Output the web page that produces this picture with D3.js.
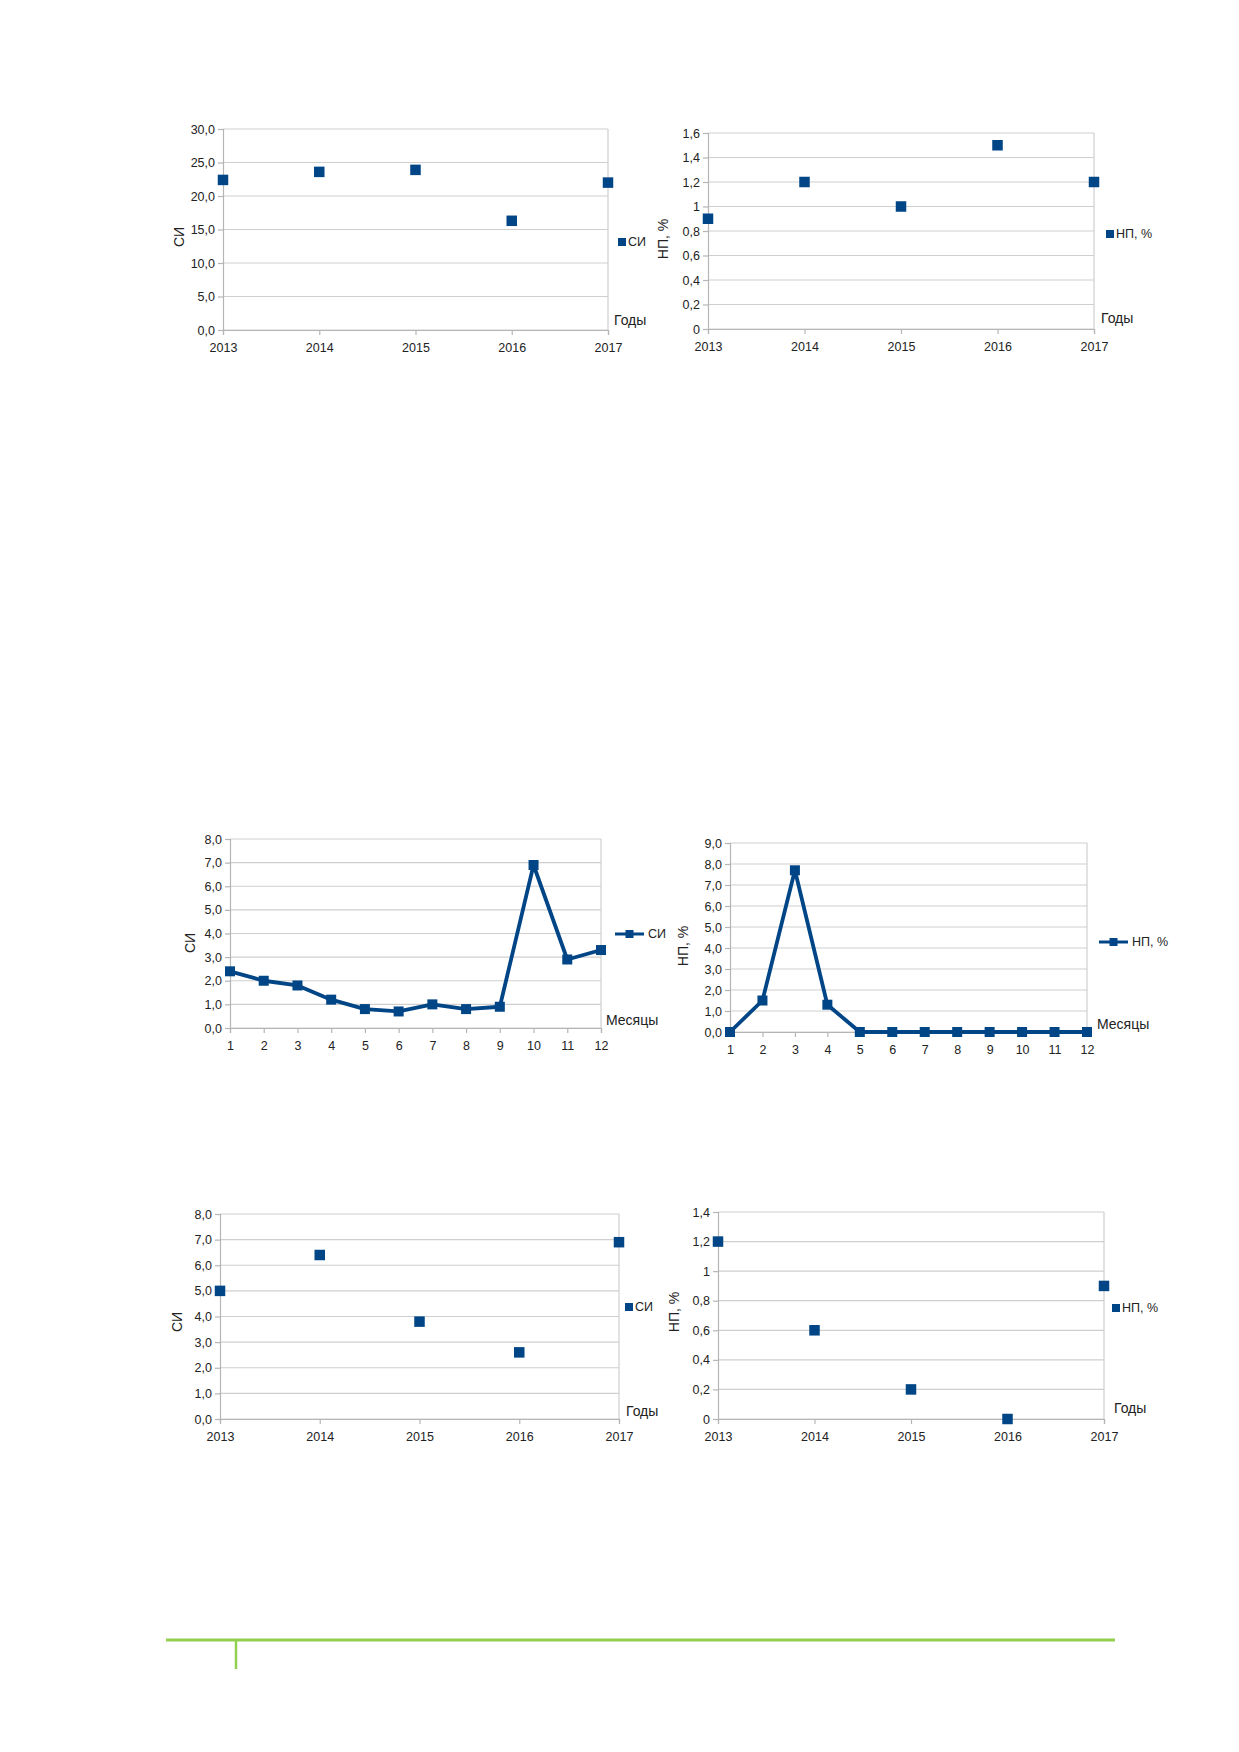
<!DOCTYPE html>
<html>
<head>
<meta charset="utf-8">
<script src="https://cdnjs.cloudflare.com/ajax/libs/d3/7.8.5/d3.min.js"></script>
<style>
  body { margin: 0; background: #fff; }
  text { font-family: "Liberation Sans", Arial, sans-serif; fill: #222; }
</style>
</head>
<body>
<div id="page"></div>
<script>
// data
const years = [2013, 2014, 2015, 2016, 2017];
const months = [1, 2, 3, 4, 5, 6, 7, 8, 9, 10, 11, 12];

const siByYearTop = [22.4, 23.6, 23.9, 16.3, 22.0];
const npByYearTop = [0.9, 1.2, 1.0, 1.5, 1.2];
const siByMonth = [2.4, 2.0, 1.8, 1.2, 0.8, 0.7, 1.0, 0.8, 0.9, 6.9, 2.9, 3.3];
const npByMonth = [0, 1.5, 7.7, 1.3, 0, 0, 0, 0, 0, 0, 0, 0];
const siByYearBottom = [5.0, 6.4, 3.8, 2.6, 6.9];
const npByYearBottom = [1.2, 0.6, 0.2, 0, 0.9];

const siTicks30 = [0, 5, 10, 15, 20, 25, 30];
const npTicks16 = [0, 0.2, 0.4, 0.6, 0.8, 1, 1.2, 1.4, 1.6];
const siTicks8 = [0, 1, 2, 3, 4, 5, 6, 7, 8];
const npTicks9 = [0, 1, 2, 3, 4, 5, 6, 7, 8, 9];
const npTicks14 = [0, 0.2, 0.4, 0.6, 0.8, 1, 1.2, 1.4];

const blue = "#004586";

//formats: "22,0" style and "0,8 / 1" style
const fmtFixed = v => v.toFixed(1).replace(".", ",");
const fmtShort = v => Number.isInteger(v) ? String(v) : v.toFixed(1).replace(".", ",");

let svg = d3.select("#page")
    .append("svg")
    .attr("width", 1239)
    .attr("height", 1752);

function drawChart(c) {
    let x = d3.scalePoint().domain(c.cats).range([c.left, c.right]);
    let y = d3.scaleLinear().domain([0, d3.max(c.ticks)]).range([c.bottom, c.top]);
    let g = svg.append("g");

    //grid lines
    g.selectAll(".grid")
        .data(c.ticks)
        .enter()
        .append("line")
        .attr("x1", c.left)
        .attr("x2", c.right)
        .attr("y1", d => y(d))
        .attr("y2", d => y(d))
        .attr("stroke", "#cfcfcf")
        .attr("stroke-width", 1.2);

    //right frame line
    g.append("line")
        .attr("x1", c.right).attr("x2", c.right)
        .attr("y1", c.top).attr("y2", c.bottom)
        .attr("stroke", "#cfcfcf")
        .attr("stroke-width", 1.2);

    let yAxis = g.append("g")
        .attr("transform", `translate(${c.left},0)`)
        .call(d3.axisLeft(y).tickValues(c.ticks).tickFormat(c.fmt).tickSize(5).tickPadding(3));
    let xAxis = g.append("g")
        .attr("transform", `translate(0,${c.bottom})`)
        .call(d3.axisBottom(x).tickSize(5).tickPadding(8));
    [yAxis, xAxis].forEach(a => {
        a.select(".domain").attr("stroke", "#b5b5b5").attr("stroke-width", 1.2);
        a.selectAll(".tick line").attr("stroke", "#b5b5b5").attr("stroke-width", 1.2);
        a.selectAll(".tick text")
            .style("font-family", "Liberation Sans, Arial, sans-serif")
            .style("font-size", "12.5px")
            .attr("fill", "#222");
    });

    let pts = c.cats.map((d, i) => [x(d), y(c.values[i])]);

    if (c.line) {
        g.append("path")
            .attr("d", d3.line()(pts))
            .attr("fill", "none")
            .attr("stroke", blue)
            .attr("stroke-width", 3.8)
            .attr("stroke-linejoin", "round");
    }

    const ms = c.line ? 10 : 10.5;
    g.selectAll(".pt")
        .data(pts)
        .enter()
        .append("rect")
        .attr("x", d => d[0] - ms / 2)
        .attr("y", d => d[1] - ms / 2)
        .attr("width", ms)
        .attr("height", ms)
        .attr("fill", blue);

    //axis titles
    g.append("text")
        .attr("transform", `translate(${c.yTitle[0]},${c.yTitle[1]}) rotate(-90)`)
        .attr("text-anchor", "middle")
        .attr("dominant-baseline", "central")
        .style("font-size", "14px")
        .text(c.name);
    g.append("text")
        .attr("x", c.xTitle[0])
        .attr("y", c.xTitle[1])
        .style("font-size", "14px")
        .text(c.xName);

    //legend
    let lx = c.legend[0], ly = c.legend[1];
    if (c.line) {
        g.append("line")
            .attr("x1", lx).attr("x2", lx + 29)
            .attr("y1", ly).attr("y2", ly)
            .attr("stroke", blue).attr("stroke-width", 3);
        g.append("rect")
            .attr("x", lx + 14.5 - 4).attr("y", ly - 4)
            .attr("width", 8).attr("height", 8)
            .attr("fill", blue);
        g.append("text")
            .attr("x", lx + 33).attr("y", ly)
            .attr("dominant-baseline", "central")
            .style("font-size", "12.5px")
            .text(c.name);
    } else {
        g.append("rect")
            .attr("x", lx - 4).attr("y", ly - 4)
            .attr("width", 8).attr("height", 8)
            .attr("fill", blue);
        g.append("text")
            .attr("x", lx + 6).attr("y", ly)
            .attr("dominant-baseline", "central")
            .style("font-size", "12.5px")
            .text(c.name);
    }
}

drawChart({ cats: years, values: siByYearTop, ticks: siTicks30, fmt: fmtFixed, name: "СИ", xName: "Годы",
    left: 223, right: 608, top: 129, bottom: 330, yTitle: [179, 237], xTitle: [614, 325], legend: [622, 242] });
drawChart({ cats: years, values: npByYearTop, ticks: npTicks16, fmt: fmtShort, name: "НП, %", xName: "Годы",
    left: 708, right: 1094, top: 133, bottom: 329, yTitle: [663, 239], xTitle: [1101, 323], legend: [1110, 234] });
drawChart({ cats: months, values: siByMonth, ticks: siTicks8, fmt: fmtFixed, name: "СИ", xName: "Месяцы", line: true,
    left: 230, right: 601, top: 839, bottom: 1028, yTitle: [190, 943], xTitle: [606, 1025], legend: [615, 934] });
drawChart({ cats: months, values: npByMonth, ticks: npTicks9, fmt: fmtFixed, name: "НП, %", xName: "Месяцы", line: true,
    left: 730, right: 1087, top: 843, bottom: 1032, yTitle: [683, 946], xTitle: [1097, 1029], legend: [1099, 942] });
drawChart({ cats: years, values: siByYearBottom, ticks: siTicks8, fmt: fmtFixed, name: "СИ", xName: "Годы",
    left: 220, right: 619, top: 1214, bottom: 1419, yTitle: [177, 1322], xTitle: [626, 1416], legend: [629, 1307] });
drawChart({ cats: years, values: npByYearBottom, ticks: npTicks14, fmt: fmtShort, name: "НП, %", xName: "Годы",
    left: 718, right: 1104, top: 1212, bottom: 1419, yTitle: [674, 1312], xTitle: [1114, 1413], legend: [1116, 1308] });

//green footer rule
svg.append("line")
    .attr("x1", 166).attr("x2", 1115)
    .attr("y1", 1640).attr("y2", 1640)
    .attr("stroke", "#92d050").attr("stroke-width", 3);
svg.append("line")
    .attr("x1", 236).attr("x2", 236)
    .attr("y1", 1640).attr("y2", 1669)
    .attr("stroke", "#92d050").attr("stroke-width", 2.5);
</script>
</body>
</html>
